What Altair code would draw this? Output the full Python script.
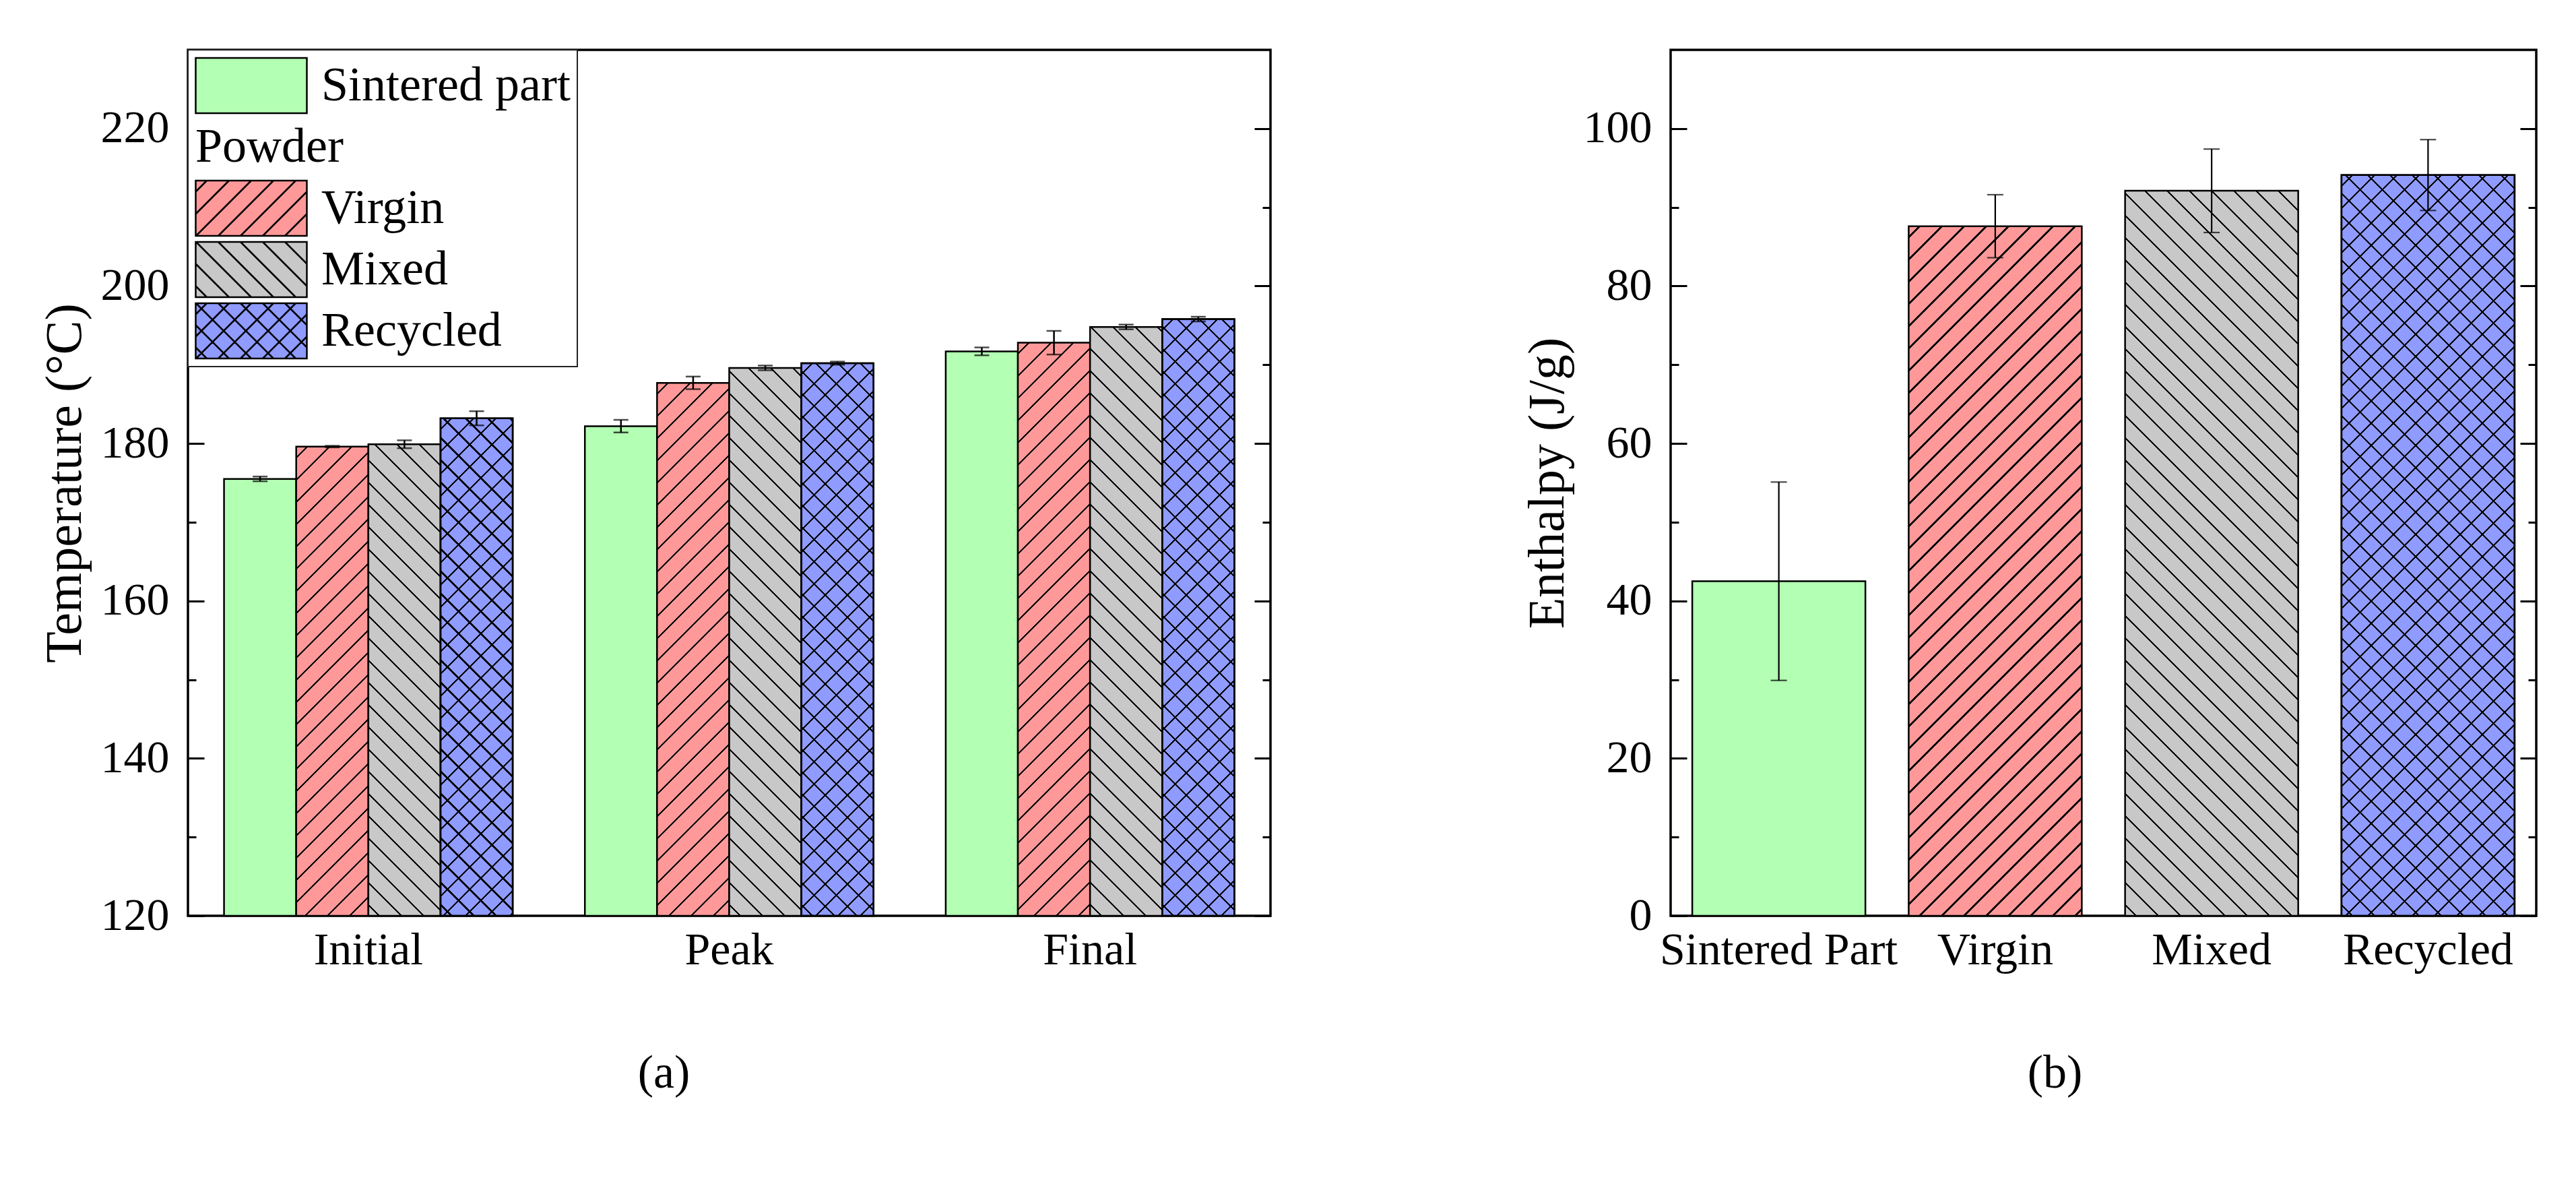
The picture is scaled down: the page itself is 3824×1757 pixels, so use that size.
import math
import altair as alt
import pandas as pd

# ---------------- data ----------------
stages = ["Initial", "Peak", "Final"]
powders = ["Sintered part", "Virgin", "Mixed", "Recycled"]
temp_initial = [175.5, 179.6, 179.9, 183.2]
temp_peak = [182.2, 187.7, 189.6, 190.2]
temp_final = [191.7, 192.8, 194.8, 195.8]
err_initial = [0.3, 0.1, 0.5, 0.9]
err_peak = [0.8, 0.8, 0.3, 0.2]
err_final = [0.5, 1.5, 0.3, 0.3]

samples = ["Sintered Part", "Virgin", "Mixed", "Recycled"]
enthalpy = [42.5, 87.6, 92.1, 94.1]
enthalpy_err = [12.6, 4.0, 5.3, 4.5]

legend_entries = ["Sintered part", "Powder", "Virgin", "Mixed", "Recycled"]

# ---------------- styles ----------------
SERIF = "Liberation Serif"
COLORS = {"Sintered part": "#B3FFB3", "Virgin": "#FF9999", "Mixed": "#C8C8C8", "Recycled": "#8F9BFF"}
HATCH = {"Sintered part": [], "Virgin": ["/"], "Mixed": ["\\"], "Recycled": ["/", "\\"]}
CLEAR = "rgba(0,0,0,0)"

W1, W2, H = 1607, 1285, 1285
YD1, YD2 = (120, 230), (0, 110)

rows_a = []
for st, vals, errs in [("Initial", temp_initial, err_initial), ("Peak", temp_peak, err_peak), ("Final", temp_final, err_final)]:
    for s, v, e in zip(powders, vals, errs):
        rows_a.append({"stage": st, "series": s, "value": v, "err": e})
df_a = pd.DataFrame(rows_a)

df_b = pd.DataFrame({"sample": samples, "series": powders, "value": enthalpy, "err": enthalpy_err})


def stripe_gradient(w, h, kind, bg, spacing=33.0, lw=2.2):
    F = w + h
    c = F / (w * w + h * h)
    if kind == "/":
        x1, y1, x2, y2 = 0.0, 0.0, c * w, c * h
    else:
        x1, y1, x2, y2 = 0.0, 1.0, c * w, 1.0 - c * h
    tf = lw * math.sqrt(2.0)
    stops = [(0.0, bg)]
    k = 0
    while True:
        center = spacing / 2.0 + k * spacing
        a = (center - tf / 2.0) / F
        b = (center + tf / 2.0) / F
        if a >= 1.0:
            break
        b = min(b, 1.0)
        stops += [(a, bg), (a, "black"), (b, "black"), (b, bg)]
        k += 1
    stops.append((1.0, bg))
    return alt.LinearGradient(
        gradient="linear",
        stops=[alt.GradientStop(offset=round(o, 6), color=col) for o, col in stops],
        x1=round(x1, 6), y1=round(y1, 6), x2=round(x2, 6), y2=round(y2, 6),
    )


def symbol_path(kinds, hw=1.0, hh=0.497, spacing=0.4):
    p = f"M{-hw},{-hh}H{hw}V{hh}H{-hw}Z"
    for kind in kinds:
        f = -hw - hh + spacing / 2
        while f < hw + hh:
            if kind == "/":
                ylo, yhi = max(-hh, f - hw), min(hh, f + hw)
                if yhi > ylo:
                    p += f"M{f - ylo:.3f},{ylo:.3f}L{f - yhi:.3f},{yhi:.3f}"
            else:
                ylo, yhi = max(-hh, -hw - f), min(hh, hw - f)
                if yhi > ylo:
                    p += f"M{f + ylo:.3f},{ylo:.3f}L{f + yhi:.3f},{yhi:.3f}"
            f += spacing
    return p


def y_axis(width, lo, hi, title_pad=14):
    return alt.Axis(
        values=list(range(lo, hi, 10)),
        labelExpr="datum.value % 20 === 0 ? datum.label : ''",
        labelPadding=28, labelOverlap=False, labelFontSize=68,
        grid=True, gridColor="black", gridOpacity=1, gridWidth=3,
        gridDash={"condition": {"test": "datum.value % 20 === 0", "value": [24, width - 48]},
                  "value": [12, width - 24]},
        domain=False, ticks=False, titlePadding=title_pad,
    )


x_axis = alt.Axis(labelAngle=0, labelPadding=17, labelFontSize=68, labelLimit=1000,
                  domain=False, ticks=False, grid=False)

# ---------------- panel (a) ----------------
AX1 = y_axis(W1, YD1[0], YD1[1])
YSC1 = alt.Scale(domain=list(YD1), zero=False, nice=False)
X1 = alt.X("stage:N", sort=stages, scale=alt.Scale(domain=stages, paddingInner=0.2, paddingOuter=0.1),
           axis=x_axis, title=None)
XO1 = alt.XOffset("series:N", sort=powders, scale=alt.Scale(domain=powders, paddingInner=0, paddingOuter=0))
BASE1 = alt.datum(YD1[0])


def Y1(field):
    return alt.Y(f"{field}:Q", scale=YSC1, axis=AX1, title="Temperature (°C)")


base_a = alt.Chart(df_a)
bw1 = W1 / 3 * 0.8 / 4
layers_a = [
    base_a.transform_filter(alt.datum.series == "Sintered part")
    .mark_bar(fill=COLORS["Sintered part"], stroke="black", strokeWidth=2.5)
    .encode(x=X1, xOffset=XO1, y=Y1("value"), y2=BASE1)
]
for r in rows_a:
    kinds = HATCH[r["series"]]
    if not kinds:
        continue
    h = (r["value"] - YD1[0]) / (YD1[1] - YD1[0]) * H
    flt = (alt.datum.stage == r["stage"]) & (alt.datum.series == r["series"])
    layers_a.append(
        base_a.transform_filter(flt)
        .mark_bar(fill=stripe_gradient(bw1, h, kinds[0], COLORS[r["series"]]),
                  stroke="black", strokeWidth=2.5)
        .encode(x=X1, xOffset=XO1, y=Y1("value"), y2=BASE1)
    )
    for kind in kinds[1:]:
        layers_a.append(
            base_a.transform_filter(flt)
            .mark_bar(fill=stripe_gradient(bw1, h, kind, CLEAR), stroke="black", strokeWidth=2.5)
            .encode(x=X1, xOffset=XO1, y=Y1("value"), y2=BASE1)
        )

err_a = base_a.transform_calculate(lo="datum.value - datum.err", hi="datum.value + datum.err")
layers_a.append(err_a.mark_rule(color="black", strokeWidth=2.5)
                .encode(x=X1, xOffset=XO1, y=Y1("lo"), y2="hi:Q"))
layers_a.append(err_a.mark_tick(color="black", thickness=2.5, size=22)
                .encode(x=X1, xOffset=XO1, y=Y1("lo")))
layers_a.append(err_a.mark_tick(color="black", thickness=2.5, size=22)
                .encode(x=X1, xOffset=XO1, y=Y1("hi")))

LEG = alt.Legend(
    title=None, orient="top-left", offset=0, padding=10,
    symbolSize=27225, symbolStrokeWidth=2.5, clipHeight=86, rowPadding=5,
    labelFont=SERIF, labelFontSize=72, labelColor="black", labelLimit=1000,
    labelOffset=alt.ExprRef(expr="datum.value === 'Powder' ? -167 : 20"),
    strokeColor="#222222", fillColor="white",
)
fill_range = [COLORS["Sintered part"], CLEAR, COLORS["Virgin"], COLORS["Mixed"], COLORS["Recycled"]]
stroke_range = ["black", CLEAR, "black", "black", "black"]
shape_range = [symbol_path([]), symbol_path([]), symbol_path(["/"]), symbol_path(["\\"]),
               symbol_path(["/", "\\"])]
legend_layer = (
    base_a.transform_filter("false")
    .mark_point(filled=True, opacity=1, strokeWidth=2.5)
    .encode(
        fill=alt.Fill("series:N", scale=alt.Scale(domain=legend_entries, range=fill_range), legend=LEG),
        stroke=alt.Stroke("series:N", scale=alt.Scale(domain=legend_entries, range=stroke_range), legend=LEG),
        shape=alt.Shape("series:N", scale=alt.Scale(domain=legend_entries, range=shape_range), legend=LEG),
    )
)
layers_a.append(legend_layer)

panel_a = alt.layer(*layers_a).properties(
    width=W1, height=H,
    title=alt.TitleParams("(a)", orient="bottom", anchor="middle", frame="group", dx=-97, offset=115,
                          font=SERIF, fontSize=70, fontWeight="normal", color="black"),
)

# ---------------- panel (b) ----------------
AX2 = y_axis(W2, YD2[0], YD2[1])
YSC2 = alt.Scale(domain=list(YD2), nice=False)
X2 = alt.X("sample:N", sort=samples, scale=alt.Scale(domain=samples, paddingInner=0.2, paddingOuter=0.1),
           axis=x_axis, title=None)


def Y2(field):
    return alt.Y(f"{field}:Q", scale=YSC2, axis=AX2, title="Enthalpy (J/g)")


base_b = alt.Chart(df_b)
bw2 = W2 / 4 * 0.8
layers_b = []
for smp, ser, v in zip(samples, powders, enthalpy):
    kinds = HATCH[ser]
    flt = alt.datum.sample == smp
    if not kinds:
        layers_b.append(base_b.transform_filter(flt)
                        .mark_bar(fill=COLORS[ser], stroke="black", strokeWidth=2.5)
                        .encode(x=X2, y=Y2("value")))
        continue
    h = (v - YD2[0]) / (YD2[1] - YD2[0]) * H
    layers_b.append(base_b.transform_filter(flt)
                    .mark_bar(fill=stripe_gradient(bw2, h, kinds[0], COLORS[ser]), stroke="black", strokeWidth=2.5)
                    .encode(x=X2, y=Y2("value")))
    for kind in kinds[1:]:
        layers_b.append(base_b.transform_filter(flt)
                        .mark_bar(fill=stripe_gradient(bw2, h, kind, CLEAR), stroke="black", strokeWidth=2.5)
                        .encode(x=X2, y=Y2("value")))

err_b = base_b.transform_calculate(lo="datum.value - datum.err", hi="datum.value + datum.err")
layers_b.append(err_b.mark_rule(color="black", strokeWidth=2.2).encode(x=X2, y=Y2("lo"), y2="hi:Q"))
layers_b.append(err_b.mark_tick(color="black", thickness=2.2, size=24).encode(x=X2, y=Y2("lo")))
layers_b.append(err_b.mark_tick(color="black", thickness=2.2, size=24).encode(x=X2, y=Y2("hi")))

panel_b = alt.layer(*layers_b).properties(
    width=W2, height=H,
    title=alt.TitleParams("(b)", orient="bottom", anchor="middle", frame="group", dx=-72, offset=115,
                          font=SERIF, fontSize=70, fontWeight="normal", color="black"),
)

chart = (
    alt.hconcat(panel_a, panel_b, spacing=369)
    .properties(padding={"left": 56, "top": 72, "right": 5, "bottom": 5})
    .configure_view(stroke="black", strokeWidth=3.5)
    .configure_axis(labelFont=SERIF, titleFont=SERIF, labelColor="black", titleColor="black",
                    labelFontSize=68, titleFontSize=76, titleFontWeight="normal")
    .configure_legend(strokeWidth=2)
)

chart.save("out.html", embed_options={"renderer": "svg", "actions": False})
